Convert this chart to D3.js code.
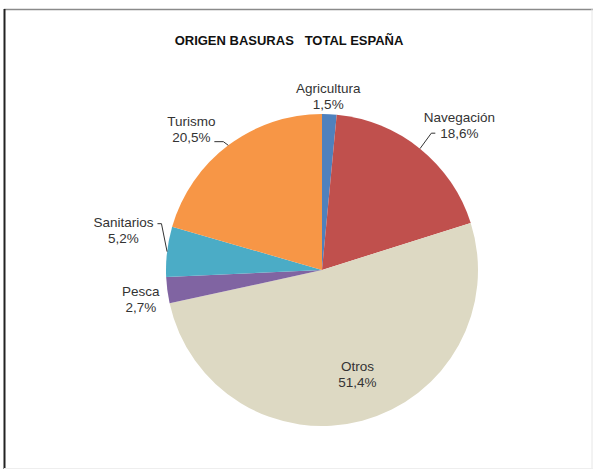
<!DOCTYPE html>
<html>
<head>
<meta charset="utf-8">
<script src="https://cdn.jsdelivr.net/npm/d3@7"></script>
<style>
  html, body { margin: 0; padding: 0; background: #fff; }
  svg { display: block; }
  text { font-family: "Liberation Sans", Arial, sans-serif; }
</style>
</head>
<body>
<svg id="chart" width="593" height="471"></svg>
<script>
// ---- data ----
const categories = ["Agricultura", "Navegación", "Otros", "Pesca", "Sanitarios", "Turismo"];
const values = [1.5, 18.6, 51.4, 2.7, 5.2, 20.5];
const valueLabels = ["1,5%", "18,6%", "51,4%", "2,7%", "5,2%", "20,5%"];
const colors = ["#4f81bd", "#c0504d", "#ddd9c3", "#8064a2", "#4bacc6", "#f79646"];
const title = "ORIGEN BASURAS   TOTAL ESPAÑA";

// ---- layout ----
const W = 593, H = 471;
const cx = 322, cy = 270, R = 156;
// label placement: radius (relative to R) and angle nudge (deg), plus extra pixel nudges
const labelLayout = {
  "Agricultura": { rf: 1.12, da: 0,   dx: -2, dy: 0 },
  "Navegación":  { rf: 1.27, da: 7,   dx: -5, dy: -8 },
  "Otros":       { rf: 0.70, da: -4,  dx: 0,  dy: 0 },
  "Pesca":       { rf: 1.20, da: -1,  dx: 4,  dy: 0 },
  "Sanitarios":  { rf: 1.30, da: 5,   dx: 0,  dy: 0 },
  "Turismo":     { rf: 1.22, da: -6,  dx: -1, dy: -3 }
};
const leaders = { "Navegación": "left", "Sanitarios": "right", "Turismo": "right" };

const svg = d3.select("#chart");

// frame
svg.append("line").attr("x1", 4).attr("x2", 593).attr("y1", 9.5).attr("y2", 9.5)
  .attr("stroke", "#8a8a8a").attr("stroke-width", 1.5);
svg.append("line").attr("x1", 4.5).attr("x2", 4.5).attr("y1", 9).attr("y2", 469)
  .attr("stroke", "#222").attr("stroke-width", 2);
svg.append("line").attr("x1", 592).attr("x2", 592).attr("y1", 9).attr("y2", 469)
  .attr("stroke", "#e6e6e6").attr("stroke-width", 1);
svg.append("line").attr("x1", 4).attr("x2", 593).attr("y1", 468.5).attr("y2", 468.5)
  .attr("stroke", "#eeeeee").attr("stroke-width", 1);

// title
svg.append("text")
  .attr("x", 289).attr("y", 45)
  .attr("text-anchor", "middle")
  .attr("font-size", 13)
  .attr("font-weight", "bold")
  .attr("fill", "#111")
  .style("white-space", "pre")
  .attr("xml:space", "preserve")
  .text(title);

const data = categories.map((c, i) => ({ name: c, value: values[i], label: valueLabels[i], color: colors[i] }));

const pie = d3.pie().value(d => d.value).sort(null);
const arcs = pie(data);
const arc = d3.arc().innerRadius(0).outerRadius(R);

const g = svg.append("g").attr("transform", `translate(${cx},${cy})`);

g.selectAll("path.slice")
  .data(arcs)
  .enter().append("path")
  .attr("class", "slice")
  .attr("d", arc)
  .attr("fill", d => d.data.color)
  .attr("stroke", "none");

const fs = 13.5, lh = 16;

arcs.forEach(a => {
  const L = labelLayout[a.data.name];
  const mid = (a.startAngle + a.endAngle) / 2;
  const ang = mid + L.da * Math.PI / 180;
  const lx = R * L.rf * Math.sin(ang) + L.dx;
  const ly = -R * L.rf * Math.cos(ang) + L.dy;
  const t = g.append("text")
    .attr("text-anchor", "middle")
    .attr("font-size", fs)
    .attr("fill", "#333");
  t.append("tspan").attr("x", lx).attr("y", ly - 2).text(a.data.name);
  t.append("tspan").attr("x", lx).attr("y", ly + lh - 2).text(a.data.label);

  const side = leaders[a.data.name];
  if (side) {
    // end point on the pie edge at mid-angle
    const ex = R * Math.sin(mid), ey = -R * Math.cos(mid);
    let sx, sy, hx;
    if (a.data.name === "Sanitarios") {
      sx = lx + 34; sy = ly - 5; hx = sx + 4;
    } else if (side === "right") {
      sx = lx + 23; sy = ly + lh - 2; hx = sx + 9;
    } else {
      sx = lx - 24; sy = ly + lh - 7; hx = sx - 4;
    }
    g.append("path")
      .attr("d", `M${sx},${sy}L${hx},${sy}L${ex},${ey}`)
      .attr("fill", "none")
      .attr("stroke", "#333")
      .attr("stroke-width", 1);
  }
});
</script>
</body>
</html>
